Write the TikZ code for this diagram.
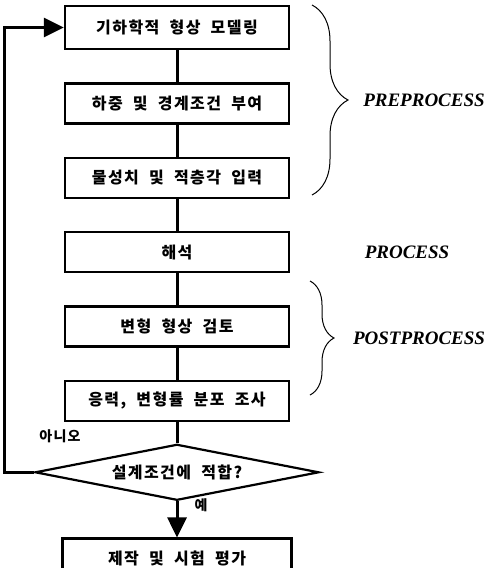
\documentclass[tikz,border=0pt]{standalone}
\usepackage{fontspec}
\setmainfont{Liberation Serif}
\newfontfamily\kr{Noto Sans CJK KR}[LetterSpace=9, WordSpace=2]
\usetikzlibrary{positioning, arrows.meta, shapes.geometric, decorations.pathreplacing}
\tikzset{
    box/.style = {
        rectangle,
        draw,
        line width=2.4pt,
        minimum width=224pt,
        minimum height=40pt,
        align=center,
        font=\kr\bfseries\fontsize{16}{18}\selectfont
    },
    decision/.style = {box, diamond, aspect=5, inner sep=0pt,
        minimum width=284pt, minimum height=56pt, line width=2.2pt},
    link/.style = {line width=3pt},
    arrow/.style = {link, -{Triangle[length=20pt, width=19pt]}},
    phase/.style = {font=\bfseries\itshape\fontsize{19}{21}\selectfont},
    bracefig/.style = {decorate, decoration={brace, amplitude=#1}, line width=1pt}
}

\begin{document}
\begin{tikzpicture}[x=1pt, y=-1pt, node distance=32pt]
\useasboundingbox (0,0) rectangle (495,568);

% Boxes
\node[box, minimum height=43pt] (geo) at (177,27.5) {기하학적 형상 모델링};
\node[box, below=of geo] (load) {하중 및 경계조건 부여};
\node[box, below=of load] (mat) {물성치 및 적층각 입력};
\node[box, below=of mat] (solve) {해석};
\node[box, below=of solve] (deform) {변형 형상 검토};
\node[box, below=of deform] (stress) {응력, 변형률 분포 조사};
\node[decision, below=21pt of stress] (check) {설계조건에 적합?};
\node[box, below=36pt of check, minimum width=229pt] (make) {제작 및 시험 평가};

\draw[link] (geo) -- (load);
\draw[link] (load) -- (mat);
\draw[link] (mat) -- (solve);
\draw[link] (solve) -- (deform);
\draw[link] (deform) -- (stress);
\draw[link] (stress) -- (check);
\draw[arrow] (check) -- (make);
\draw[arrow] (check.west) -- ++(-29,0) |- (geo.west);

\node[font=\kr\bfseries\fontsize{14}{16}\selectfont] (no) at (60,436) {아니오};
\node[font=\kr\bfseries\fontsize{14}{16}\selectfont] (yes) at (201,505) {예};

% Braces
\coordinate (pretop) at (312,5);
\coordinate (prebot) at (312,195);
\coordinate (posttop) at (310,281);
\coordinate (postbot) at (310,395);
\draw[bracefig=36pt] (pretop) -- (prebot);
\draw[bracefig=24pt] (posttop) -- (postbot);

\node[phase] (pre) at (424,100) {PREPROCESS};
\node[phase] (proc) at (407,252) {PROCESS};
\node[phase] (post) at (419,338) {POSTPROCESS};

\end{tikzpicture}
\end{document}
